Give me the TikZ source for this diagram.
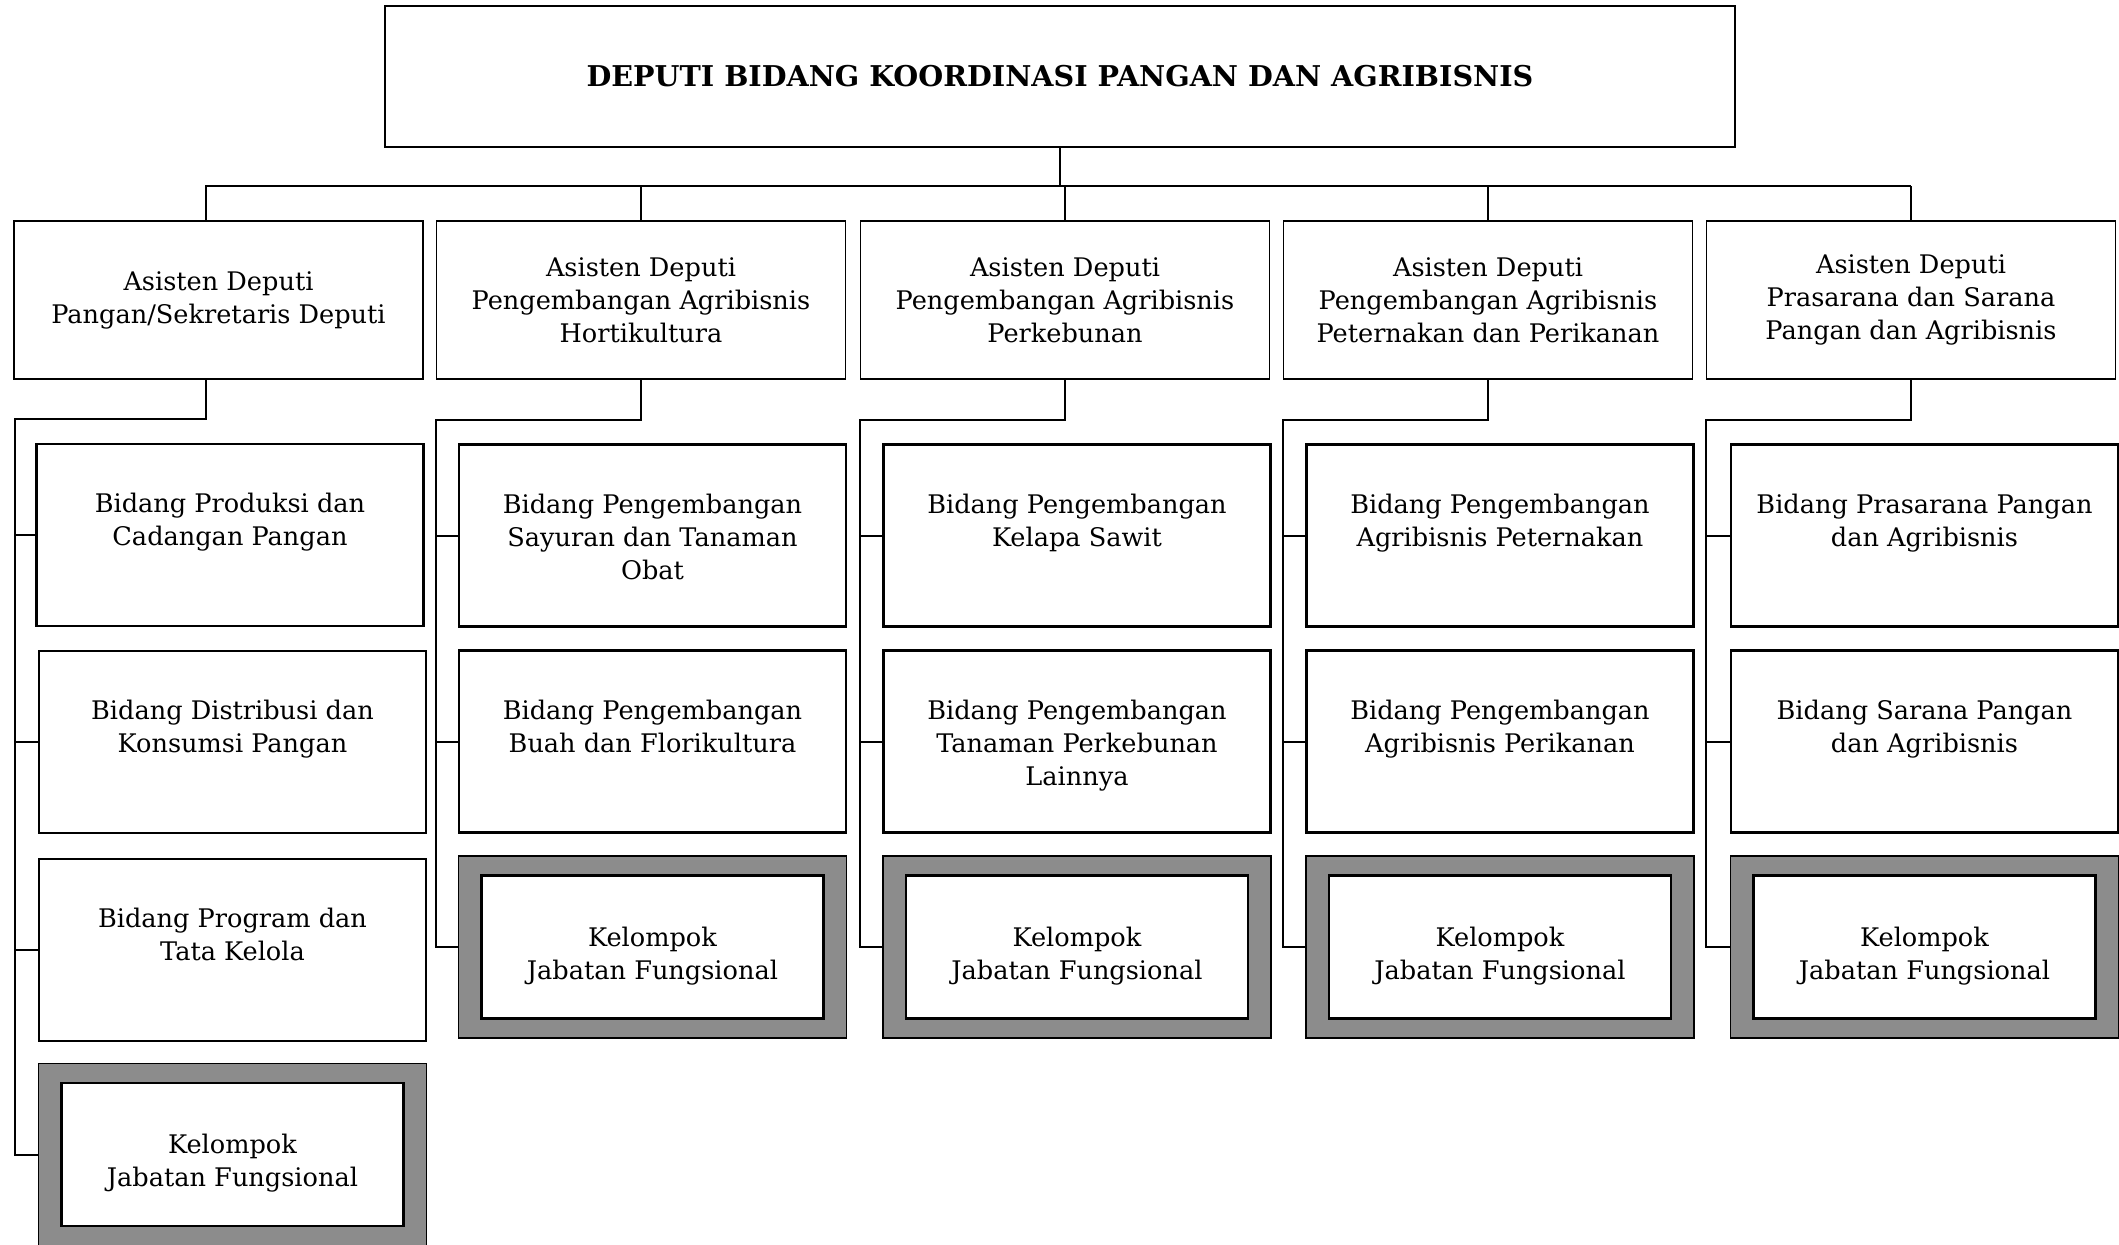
\documentclass[tikz,border=0pt]{standalone}
\usepackage{fontspec}
\setmainfont{DejaVu Serif}
\newcommand{\pxl}{0.014cm}

\tikzset{
  judul/.style={draw, line width=0.8pt, minimum width=1350*\pxl, minimum height=141*\pxl, font=\bfseries\fontsize{11.4}{13}\selectfont},
  asdep/.style={draw, line width=0.6pt, minimum width=409*\pxl, minimum height=158*\pxl, align=center},
  bidang/.style={draw, line width=1.1pt, minimum width=387*\pxl, minimum height=182*\pxl},
  isi/.style={anchor=north, align=center, inner sep=0pt},
  kelompok/.style={draw, line width=0.5pt, fill=black!45, minimum width=388*\pxl, minimum height=182*\pxl},
  dalam/.style={draw, line width=1.1pt, fill=white, minimum width=342*\pxl, minimum height=143*\pxl},
  teks/.style={align=center, inner sep=0pt},
  garis/.style={line width=0.8pt},
}

\begin{document}
\begin{tikzpicture}[x=\pxl, y=-\pxl, font=\fontsize{10.2}{13.2}\selectfont]
\useasboundingbox (0,0) rectangle (2119,1244);

\node[judul] (deputi) at (1060,76.5) {DEPUTI BIDANG KOORDINASI PANGAN DAN AGRIBISNIS};

% asisten deputi
\node[asdep] (as1) at (218.5,300) {Asisten Deputi\\Pangan/Sekretaris Deputi};
\node[asdep] (as2) at (641,300) {Asisten Deputi\\Pengembangan Agribisnis\\Hortikultura};
\node[asdep] (as3) at (1065,300) {Asisten Deputi\\Pengembangan Agribisnis\\Perkebunan};
\node[asdep] (as4) at (1488,300) {Asisten Deputi\\Pengembangan Agribisnis\\Peternakan dan Perikanan};
\node[asdep] (as5) at (1911,300) {Asisten Deputi\\Prasarana dan Sarana\\Pangan dan Agribisnis};

% bidang, kolom 1
\node[bidang] (b11) at (230,535) {};
\node[bidang] (b12) at (232.5,742) {};
\node[bidang] (b13) at (232.5,950) {};
\node[kelompok] (k1) at (232.5,1154.5) {};
\node[dalam] (ki1) at (k1) {};
\node[teks] (tk1) at ([yshift=-9*\pxl]k1) {Kelompok\\Jabatan Fungsional};
\node[isi] (t11) at ([yshift=-50*\pxl]b11.north) {Bidang Produksi dan\\Cadangan Pangan};
\node[isi] (t12) at ([yshift=-50*\pxl]b12.north) {Bidang Distribusi dan\\Konsumsi Pangan};
\node[isi] (t13) at ([yshift=-50*\pxl]b13.north) {Bidang Program dan\\Tata Kelola};

% bidang, kolom 2-5
\foreach \i/\x in {2/652.5, 3/1077, 4/1500, 5/1924.5} {
  \node[bidang] (b\i1) at (\x,535.5) {};
  \node[bidang] (b\i2) at (\x,741.5) {};
  \node[kelompok] (k\i) at (\x,947) {};
  \node[dalam] (ki\i) at (k\i) {};
  \node[teks] (tk\i) at ([yshift=-9*\pxl]k\i) {Kelompok\\Jabatan Fungsional};
}
\node[isi] (t21) at ([yshift=-50*\pxl]b21.north) {Bidang Pengembangan\\Sayuran dan Tanaman\\Obat};
\node[isi] (t22) at ([yshift=-50*\pxl]b22.north) {Bidang Pengembangan\\Buah dan Florikultura};
\node[isi] (t31) at ([yshift=-50*\pxl]b31.north) {Bidang Pengembangan\\Kelapa Sawit};
\node[isi] (t32) at ([yshift=-50*\pxl]b32.north) {Bidang Pengembangan\\Tanaman Perkebunan\\Lainnya};
\node[isi] (t41) at ([yshift=-50*\pxl]b41.north) {Bidang Pengembangan\\Agribisnis Peternakan};
\node[isi] (t42) at ([yshift=-50*\pxl]b42.north) {Bidang Pengembangan\\Agribisnis Perikanan};
\node[isi] (t51) at ([yshift=-50*\pxl]b51.north) {Bidang Prasarana Pangan\\dan Agribisnis};
\node[isi] (t52) at ([yshift=-50*\pxl]b52.north) {Bidang Sarana Pangan\\dan Agribisnis};

% garis atas
\coordinate (d1) at (206,186);
\coordinate (r1) at (15,419);
\draw[garis] (deputi.south) -- (deputi.south |- d1);
\draw[garis] (d1 |- as1.north) -- (d1) -- (as5.north |- d1);
\foreach \i in {2,...,5}
  \draw[garis] (as\i.north |- d1) -- (as\i.north);

% garis bawah
\draw[garis] (d1 |- as1.south) -- (d1 |- r1) -- (r1) -- (r1 |- k1.west) -- (k1.west);
\foreach \j in {1,2,3}
  \draw[garis] (r1 |- b1\j.west) -- (b1\j.west);
\foreach \i in {2,...,5} {
  \draw[garis] (as\i.south) |- ([yshift=-40*\pxl]as\i.south west) -- (as\i.south west |- k\i.west) -- (k\i.west);
  \draw[garis] (as\i.south west |- b\i1.west) -- (b\i1.west);
  \draw[garis] (as\i.south west |- b\i2.west) -- (b\i2.west);
}
\end{tikzpicture}
\end{document}
